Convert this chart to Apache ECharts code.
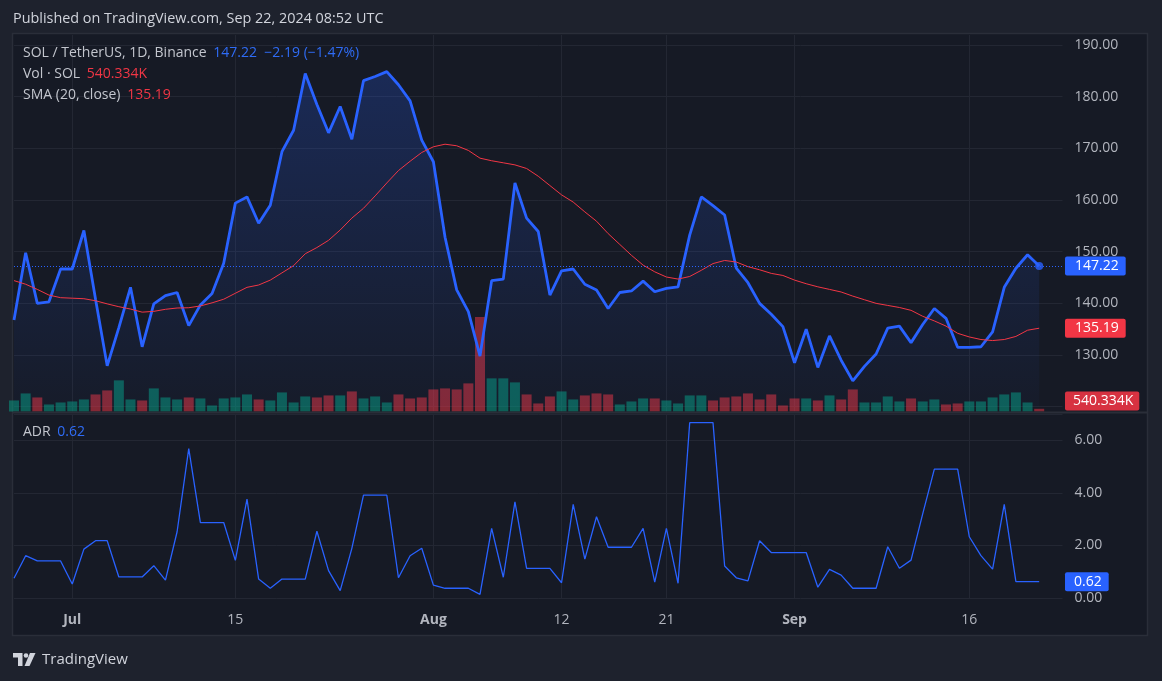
<!DOCTYPE html>
<html><head><meta charset="utf-8">
<script src="https://cdn.jsdelivr.net/npm/echarts@6/dist/echarts.min.js"></script>
<style>html,body{margin:0;padding:0;background:#1e222d;}#c{width:1162px;height:681px;}</style>
</head><body><div id="c"></div>
<script>
// ---- data ----
const dates = [
'06-26','06-27','06-28','06-29','06-30',
'07-01','07-02','07-03','07-04','07-05','07-06','07-07','07-08','07-09','07-10','07-11','07-12','07-13','07-14','07-15','07-16',
'07-17','07-18','07-19','07-20','07-21','07-22','07-23','07-24','07-25','07-26','07-27','07-28','07-29','07-30','07-31',
'08-01','08-02','08-03','08-04','08-05','08-06','08-07','08-08','08-09','08-10','08-11','08-12','08-13','08-14','08-15','08-16',
'08-17','08-18','08-19','08-20','08-21','08-22','08-23','08-24','08-25','08-26','08-27','08-28','08-29','08-30','08-31',
'09-01','09-02','09-03','09-04','09-05','09-06','09-07','09-08','09-09','09-10','09-11','09-12','09-13','09-14','09-15','09-16',
'09-17','09-18','09-19','09-20','09-21','09-22','09-23','09-24'];
const tickDates  = ['07-01','07-15','08-01','08-12','08-21','09-01','09-16'];
const tickLabels = ['Jul','15','Aug','12','21','Sep','16'];

const closes = [136.8,149.8,140.0,140.3,146.65,146.65,154.1,140.8,127.9,135.3,143.1,131.6,139.9,141.5,142.1,135.7,139.7,141.9,147.75,159.4,
160.6,155.5,159.0,169.35,173.5,184.5,178.5,173.0,178.1,171.75,183.1,183.9,184.85,182.3,179.2,171.6,167.4,152.8,142.6,138.4,
129.8,144.4,144.7,163.3,156.5,153.9,141.6,146.3,146.65,143.7,142.6,139.0,142.1,142.4,144.3,142.25,142.9,143.2,153.2,160.6,
158.9,157.1,146.8,144.0,140.0,137.9,135.5,128.5,135.0,127.6,133.7,129.0,125.0,127.8,130.2,135.2,135.6,132.4,135.9,139.0,
137.1,131.5,131.5,131.6,134.5,143.1,146.8,149.41,147.22];

const sma20 = [144.4,143.7,142.7,141.6,141.1,141.0,140.9,140.5,139.9,139.35,138.9,138.3,138.45,138.85,139.1,139.15,139.5,140.1,140.8,141.95,
143.1,143.55,144.5,145.9,147.3,149.6,150.8,152.2,154.2,156.5,158.4,160.8,163.3,165.7,167.5,169.2,170.3,170.8,170.5,169.6,
168.1,167.6,167.2,166.8,166.1,164.6,162.8,161.0,159.6,157.7,155.9,153.5,151.4,149.3,147.4,146.1,145.1,144.7,145.2,146.4,
147.7,148.3,148.0,147.1,146.5,145.8,145.4,144.5,143.8,143.2,142.7,142.2,141.4,140.7,140.0,139.6,139.2,138.65,137.5,136.6,
135.6,134.2,133.5,133.0,132.8,133.0,133.6,134.8,135.19];

// volume in millions of SOL
const volumeM = [2.2,3.6,2.8,1.4,1.8,2.0,2.4,3.4,4.2,6.2,2.4,2.2,4.6,2.8,2.4,2.8,2.6,1.2,2.6,2.8,
3.4,2.4,2.2,3.8,1.8,3.0,2.8,3.2,3.2,4.0,2.6,3.0,1.8,3.4,2.6,2.8,4.4,4.6,4.4,5.6,
18.8,6.6,6.6,5.8,3.4,1.6,3.0,4.0,2.4,3.2,3.6,3.4,1.4,2.0,2.6,2.6,2.2,1.6,3.2,3.2,
2.2,2.8,3.0,3.6,2.4,3.4,1.2,2.6,2.6,2.2,3.2,2.4,4.4,1.8,1.8,3.0,2.0,2.6,2.0,2.4,
1.4,1.6,2.0,2.0,2.8,3.4,3.8,1.8,0.540334];
// 1 = up candle (green volume), 0 = down candle (red volume)
const volumeUp = [1,1,0,1,1,1,1,0,0,1,1,0,1,1,1,0,1,1,1,1,
1,0,1,1,1,1,0,0,1,0,1,1,1,0,0,0,0,0,0,0,
0,1,1,1,0,0,0,1,1,0,0,0,1,1,1,0,1,1,1,1,
0,0,0,0,0,0,0,0,1,0,1,0,0,1,1,1,1,0,1,1,
0,0,1,1,1,1,1,1,0];

const adr = [0.75,1.61,1.41,1.41,1.41,0.53,1.86,2.18,2.18,0.80,0.80,0.80,1.23,0.68,2.52,5.68,2.87,2.87,2.87,1.43,
3.76,0.72,0.37,0.72,0.72,0.72,2.54,1.04,0.28,1.89,3.91,3.91,3.91,0.77,1.61,1.89,0.49,0.37,0.37,0.37,
0.14,2.65,0.79,3.66,1.13,1.13,1.13,0.58,3.56,1.48,3.09,1.93,1.93,1.93,2.65,0.60,2.65,0.56,6.67,6.67,
6.67,1.22,0.77,0.65,2.18,1.73,1.73,1.73,1.73,0.41,1.09,0.87,0.37,0.37,0.37,1.95,1.13,1.44,3.2,4.90,
4.90,4.90,2.33,1.61,1.10,3.56,0.62,0.62,0.62];

// ---- styling ----
const FONT = "'Open Sans', 'Noto Sans', sans-serif";
const GRID = '#232733';
const TXT = '#b2b5be';
const BLUE = '#2962ff';
const RED = '#f23645';
const n = closes.length;
const lastClose = closes[n-1], prevClose = closes[n-2];
const chg = lastClose - prevClose, pct = chg / prevClose * 100;
const lastSma = sma20[n-1], lastVol = volumeM[n-1], lastAdr = adr[n-1];
const minus = v => (v < 0 ? '\u2212' : '') + Math.abs(v).toFixed(2);

const isTick = i => tickDates.indexOf(dates[i]) >= 0;
function xAxisFor(gi, showLabel, showSplit) {
  return {
    type: 'category', gridIndex: gi, data: dates, boundaryGap: false,
    axisLine: {show: false}, axisTick: {show: false},
    axisLabel: {
      show: showLabel, interval: (i) => isTick(i), margin: 15,
      color: TXT, fontSize: 14, fontFamily: FONT,
      formatter: (v) => {
        const k = tickDates.indexOf(v);
        if (k < 0) return '';
        const t = tickLabels[k];
        return /^[A-Za-z]/.test(t) ? '{m|' + t + '}' : t;
      },
      rich: {m: {fontWeight: 'bold', color: TXT, fontSize: 14, fontFamily: FONT}}
    },
    splitLine: {show: showSplit, interval: (i) => isTick(i), lineStyle: {color: GRID, width: 1}}
  };
}

const chart = echarts.init(document.getElementById('c'), null, {renderer: 'canvas'});
const option = {
  backgroundColor: '#1e222d',
  animation: false,
  grid: [
    {left: 14, right: 99.5, top: 45, height: 361.7},
    {left: 14, right: 99.5, top: 35, height: 376.5},
    {left: 14, right: 99.5, top: 414, height: 184}
  ],
  xAxis: [xAxisFor(0, false, false), xAxisFor(1, false, true), xAxisFor(2, true, true)],
  yAxis: [
    {type: 'value', gridIndex: 0, position: 'right', min: 120, max: 190, interval: 10,
     axisLine: {show: false}, axisTick: {show: false},
     axisLabel: {margin: 12, color: TXT, fontSize: 14, fontFamily: FONT,
       formatter: v => v === 120 ? '' : v.toFixed(2)},
     splitLine: {lineStyle: {color: GRID}}},
    {type: 'value', gridIndex: 1, position: 'right', min: 0, max: 75,
     show: false, splitLine: {show: false}},
    {type: 'value', gridIndex: 2, position: 'right', min: 0, max: 7, interval: 2,
     axisLine: {show: false}, axisTick: {show: false},
     axisLabel: {margin: 12, color: TXT, fontSize: 14, fontFamily: FONT,
       formatter: v => (v % 2 === 0) ? v.toFixed(2) : ''},
     splitLine: {lineStyle: {color: GRID}}}
  ],
  series: [
    {type: 'bar', name: 'Vol', xAxisIndex: 1, yAxisIndex: 1, barWidth: 10, z: 1, silent: true,
     data: volumeM.map((v, i) => ({value: v, itemStyle: {color: volumeUp[i] ? 'rgba(8,153,129,0.55)' : 'rgba(242,54,69,0.5)'}}))},
    {type: 'line', name: 'SOL', xAxisIndex: 0, yAxisIndex: 0, data: closes, z: 3,
     showSymbol: false, symbol: 'none', lineStyle: {color: BLUE, width: 2.8},
     areaStyle: {origin: 'start', color: new echarts.graphic.LinearGradient(0, 0, 0, 1, [
        {offset: 0, color: 'rgba(41,98,255,0.32)'}, {offset: 1, color: 'rgba(41,98,255,0.03)'}])},
     markLine: {silent: true, symbol: ['none', 'none'], label: {show: false},
       lineStyle: {type: [1, 2], color: BLUE, width: 1}, data: [{yAxis: lastClose}]}},
    {type: 'line', name: 'SMA', xAxisIndex: 0, yAxisIndex: 0, data: sma20, z: 4,
     showSymbol: false, symbol: 'none', lineStyle: {color: RED, width: 1}},
    {type: 'scatter', xAxisIndex: 0, yAxisIndex: 0, z: 5, symbolSize: 8,
     itemStyle: {color: BLUE}, data: [[dates[n-1], lastClose]]},
    {type: 'line', name: 'ADR', xAxisIndex: 2, yAxisIndex: 2, data: adr, z: 3,
     showSymbol: false, symbol: 'none', lineStyle: {color: BLUE, width: 1.3}}
  ]
};
chart.setOption(option);

// ---- annotations positioned through the axes ----
const xR = chart.convertToPixel({xAxisIndex: 0}, dates[dates.length-1]);
const yP = chart.convertToPixel({yAxisIndex: 0}, lastClose);
const yS = chart.convertToPixel({yAxisIndex: 0}, lastSma);
const volBottom = 411.5;
const yV = Math.min(chart.convertToPixel({yAxisIndex: 1}, lastVol), volBottom - 10.5);
const yA = chart.convertToPixel({yAxisIndex: 2}, lastAdr);
const bx = xR + 2.5;
function box(text, y, bg, pad) {
  return {type: 'text', x: bx, y: y, z: 50,
    style: {text: text, fill: '#ffffff', font: '14px ' + FONT, backgroundColor: bg,
      padding: pad, borderRadius: 2, verticalAlign: 'middle', align: 'left'}};
}
const legend = (y, a, b, bcol) => ({type: 'text', x: 23, y: y, z: 40,
  style: {text: '{a|' + a + '}  {b|' + b + '}', verticalAlign: 'middle',
    rich: {a: {fill: '#c3c6ce', font: '14px ' + FONT}, b: {fill: bcol, font: '14px ' + FONT}}}});

chart.setOption({graphic: [
  {type: 'rect', z: -10, shape: {x: 12.5, y: 33.5, width: 1135, height: 602},
   style: {fill: '#161a25', stroke: '#2a2e39', lineWidth: 1.5}},
  {type: 'rect', z: 30, shape: {x: 13, y: 411.5, width: 1134, height: 2}, style: {fill: '#2a2e39'}},
  {type: 'text', x: 13, y: 19, z: 40, style: {text: 'Published on TradingView.com, Sep 22, 2024 08:52 UTC',
     fill: '#d1d4dc', font: '14.4px ' + FONT, verticalAlign: 'middle'}},
  legend(53, 'SOL / TetherUS, 1D, Binance', lastClose.toFixed(2) + '  ' + minus(chg) + ' (' + minus(pct) + '%)', '#2f6cf6'),
  legend(74.5, 'Vol \u00b7 SOL', (lastVol * 1000).toFixed(3) + 'K', RED),
  legend(95.5, 'SMA (20, close)', lastSma.toFixed(2), RED),
  legend(432, 'ADR', lastAdr.toFixed(2), '#2f6cf6'),
  box(lastClose.toFixed(2), yP, BLUE, [3, 7, 2, 10]),
  box(lastSma.toFixed(2), yS, RED, [3, 7, 2, 10]),
  box((lastVol * 1000).toFixed(3) + 'K', yV, 'rgba(242,54,69,0.88)', [3, 6, 2, 8]),
  box(lastAdr.toFixed(2), yA, BLUE, [3, 7, 2, 9]),
  // TradingView logo
  {type: 'polygon', z: 40, shape: {points: [[13,653],[22.5,653],[22.5,666],[18,666],[18,657.5],[13,657.5]]}, style: {fill: '#d1d4dc'}},
  {type: 'circle', z: 40, shape: {cx: 26, cy: 655.5, r: 2.3}, style: {fill: '#d1d4dc'}},
  {type: 'polygon', z: 40, shape: {points: [[30,653],[35.5,653],[29.5,666],[24.5,666]]}, style: {fill: '#d1d4dc'}},
  {type: 'text', x: 42, y: 660, z: 40, style: {text: 'TradingView', fill: '#d1d4dc', font: '15px ' + FONT, verticalAlign: 'middle'}}
]});
</script>
</body></html>
